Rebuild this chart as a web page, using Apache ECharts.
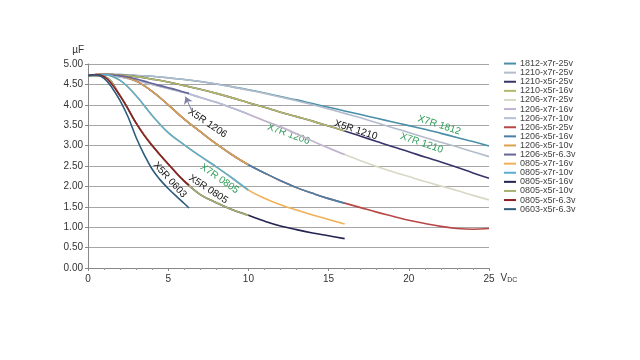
<!DOCTYPE html>
<html>
<head>
<meta charset="utf-8">
<script src="https://cdn.jsdelivr.net/npm/echarts@6/dist/echarts.min.js"></script>
<style>html,body{margin:0;padding:0;background:#fff}#c{width:640px;height:360px}</style>
</head>
<body>
<div id="c"></div>
<script>
// Voltage grids (V DC)
const volts63 = [0,0.5,1,1.5,2,2.5,3,3.5,4,4.5,5,5.5,6,6.3];
const volts10 = [0,1,2,3,4,5,6,7,8,9,10];
const volts16 = [0,1,2,3,4,5,6,7,8,9,10,11,12,13,14,15,16];
const volts25 = [0,1,2,3,4,5,6,7,8,9,10,11,12,13,14,15,16,17,18,19,20,21,22,23,24,25];

// Capacitance values (µF)
const c1812x7r25 = [4.72,4.74,4.74,4.72,4.70,4.66,4.62,4.57,4.51,4.44,4.37,4.29,4.20,4.12,4.03,3.94,3.85,3.76,3.67,3.58,3.49,3.40,3.30,3.20,3.10,2.99];
const c1210x7r25 = [4.72,4.74,4.74,4.72,4.70,4.66,4.62,4.57,4.51,4.44,4.36,4.28,4.19,4.10,4.00,3.90,3.79,3.68,3.56,3.44,3.32,3.20,3.08,2.97,2.85,2.73];
const c1210x5r25 = [4.72,4.74,4.73,4.69,4.63,4.56,4.47,4.38,4.28,4.17,4.05,3.94,3.82,3.71,3.60,3.48,3.36,3.23,3.10,2.97,2.85,2.72,2.60,2.47,2.33,2.20];
const c1210x5r16 = [4.72,4.74,4.73,4.69,4.63,4.56,4.47,4.38,4.28,4.17,4.05,3.94,3.82,3.71,3.60,3.48,3.36];
const c1206x7r25 = [4.72,4.74,4.68,4.60,4.50,4.40,4.30,4.18,4.06,3.92,3.77,3.61,3.46,3.29,3.11,2.94,2.78,2.63,2.49,2.36,2.24,2.12,2.01,1.90,1.78,1.67];
const c1206x7r16 = [4.72,4.74,4.68,4.60,4.50,4.40,4.30,4.18,4.06,3.92,3.77,3.61,3.46,3.29,3.11,2.94,2.78];
const c1206x7r10 = [4.72,4.74,4.68,4.60,4.50,4.40,4.30,4.18,4.06,3.92,3.77];
const c1206x5r25 = [4.72,4.75,4.72,4.58,4.33,4.00,3.65,3.34,3.04,2.77,2.53,2.33,2.14,1.97,1.83,1.70,1.59,1.48,1.37,1.27,1.17,1.09,1.02,0.97,0.95,0.97];
const c1206x5r16 = [4.72,4.75,4.72,4.58,4.33,4.00,3.65,3.34,3.04,2.77,2.53,2.33,2.14,1.97,1.83,1.70,1.59];
const c1206x5r10 = [4.72,4.75,4.72,4.58,4.33,4.00,3.65,3.34,3.04,2.77,2.53];
const c1206x5r63 = [4.72,4.73,4.74,4.73,4.71,4.68,4.63,4.58,4.52,4.47,4.42,4.37,4.31,4.28];
const c0805x7r16 = [4.72,4.74,4.60,4.22,3.74,3.32,3.02,2.74,2.48,2.20,1.91,1.71,1.55,1.42,1.30,1.19,1.08];
const c0805x7r10 = [4.72,4.74,4.60,4.22,3.74,3.32,3.02,2.74,2.48,2.20,1.91];
const c0805x5r16 = [4.72,4.69,4.22,3.55,3.00,2.55,2.13,1.80,1.60,1.43,1.29,1.15,1.03,0.94,0.86,0.79,0.72];
const c0805x5r10 = [4.72,4.69,4.22,3.55,3.00,2.55,2.13,1.80,1.60,1.43,1.29];
const c0805x5r63 = [4.72,4.74,4.69,4.50,4.22,3.90,3.55,3.25,3.00,2.77,2.55,2.33,2.13,2.03];
const c0603x5r63 = [4.72,4.73,4.65,4.42,4.10,3.70,3.20,2.78,2.42,2.16,1.95,1.76,1.58,1.47];

const yTicks = [0,0.5,1,1.5,2,2.5,3,3.5,4,4.5,5];
const xTicks = [0,5,10,15,20,25];

const seriesDefs = [
  ['1812-x7r-25v', volts25, c1812x7r25, '#4a8fa8'],
  ['1210-x7r-25v', volts25, c1210x7r25, '#b3bccb'],
  ['1210-x5r-25v', volts25, c1210x5r25, '#36346a'],
  ['1210-x5r-16v', volts16, c1210x5r16, '#b4b868'],
  ['1206-x7r-25v', volts25, c1206x7r25, '#d9d8c4'],
  ['1206-x7r-16v', volts16, c1206x7r16, '#c2b2d2'],
  ['1206-x7r-10v', volts10, c1206x7r10, '#b6bfd6'],
  ['1206-x5r-25v', volts25, c1206x5r25, '#b84848'],
  ['1206-x5r-16v', volts16, c1206x5r16, '#4a80a8'],
  ['1206-x5r-10v', volts10, c1206x5r10, '#dca050'],
  ['1206-x5r-6.3v', volts63, c1206x5r63, '#66669a'],
  ['0805-x7r-16v', volts16, c0805x7r16, '#f0b055'],
  ['0805-x7r-10v', volts10, c0805x7r10, '#5aaed0'],
  ['0805-x5r-16v', volts16, c0805x5r16, '#232350'],
  ['0805-x5r-10v', volts10, c0805x5r10, '#aab070'],
  ['0805-x5r-6.3v', volts63, c0805x5r63, '#8e1e22'],
  ['0603-x5r-6.3v', volts63, c0603x5r63, '#2c5c7c']
];

// Curve labels: [text, V, µF, clockwise rotation deg, colour]
const curveLabels = [
  ['X5R 1206', 7.45, 3.55, 34, '#111'],
  ['X7R 1206', 12.5, 3.28, 20, '#2f9e58'],
  ['X5R 1210', 16.7, 3.38, 18, '#111'],
  ['X7R 1812', 21.9, 3.50, 18, '#2f9e58'],
  ['X7R 1210', 20.8, 3.06, 19, '#2f9e58'],
  ['X7R 0805', 8.2, 2.19, 35, '#2f9e58'],
  ['X5R 0805', 7.5, 1.93, 33, '#111'],
  ['X5R 0603', 5.1, 2.16, 48, '#111']
];

const FONT = 'Liberation Sans, Arial, sans-serif';
const chart = echarts.init(document.getElementById('c'), null, {renderer: 'canvas'});

const series = seriesDefs.map(([name, xs, ys, color]) => {
  const s = {
    name, type: 'line', smooth: 0.4, showSymbol: false, symbol: 'none',
    data: xs.map((x, i) => [x, ys[i]]),
    lineStyle: {width: 1.6, color},
    itemStyle: {color},
    animation: false
  };
  if (name === '1206-x5r-6.3v') {
    s.markLine = {
      silent: true, animation: false,
      symbol: ['none', 'arrow'], symbolSize: 7,
      label: {show: false},
      lineStyle: {color: '#8080a8', width: 1, type: 'solid'},
      data: [[{coord: [6.5, 3.82]}, {coord: [6.08, 4.2]}]]
    };
  }
  return s;
});

chart.setOption({
  backgroundColor: '#fff',
  animation: false,
  grid: {left: 88, right: 151, top: 64, bottom: 92},
  legend: {
    orient: 'vertical', left: 499, top: 54,
    itemWidth: 12, itemHeight: 2, itemGap: 0,
    icon: 'rect',
    data: seriesDefs.map(d => d[0]),
    textStyle: {fontFamily: FONT, fontSize: 9, color: '#444', lineHeight: 9.1, padding: [0, 0, 0, -1]},
    selectedMode: false
  },
  xAxis: {
    type: 'value', min: 0, max: 25, interval: 5,
    name: '{a|V}{b|DC}',
    nameLocation: 'end', nameGap: 9,
    nameTextStyle: {
      verticalAlign: 'top', padding: [5, 0, 0, 0],
      rich: {
        a: {fontFamily: FONT, fontSize: 10, color: '#333'},
        b: {fontFamily: FONT, fontSize: 7, color: '#333', padding: [4, 0, 0, 0]}
      }
    },
    axisLine: {lineStyle: {color: '#888', width: 1}},
    axisTick: {show: true, length: 3, lineStyle: {color: '#888'}},
    minorTick: {show: true, splitNumber: 5, length: 2, lineStyle: {color: '#999'}},
    splitLine: {show: false},
    axisLabel: {fontFamily: FONT, fontSize: 10, color: '#333', margin: 6,
      formatter: v => xTicks.includes(v) ? String(v) : ''}
  },
  yAxis: {
    type: 'value', min: 0, max: 5, interval: 0.5,
    name: 'µF', nameLocation: 'end', nameGap: 9,
    nameTextStyle: {fontFamily: FONT, fontSize: 10, color: '#333', align: 'right', padding: [0, 4, 0, 0]},
    axisLine: {show: true, lineStyle: {color: '#888', width: 1}},
    axisTick: {show: true, length: 3, lineStyle: {color: '#888'}},
    splitLine: {show: true, lineStyle: {color: '#a6a6a6', width: 1}},
    axisLabel: {fontFamily: FONT, fontSize: 10, color: '#333', margin: 5,
      formatter: v => yTicks.includes(v) ? v.toFixed(2) : ''}
  },
  series
});

function placeLabels() {
  const elements = curveLabels.map(([text, x, y, rot, color]) => {
    const p = chart.convertToPixel({gridIndex: 0}, [x, y]);
    return {
      type: 'text', x: p[0], y: p[1], rotation: -rot * Math.PI / 180,
      silent: true,
      style: {text, fill: color, font: '10px ' + FONT, align: 'center', verticalAlign: 'middle'}
    };
  });
  chart.setOption({graphic: elements});
}
placeLabels();
</script>
</body>
</html>
